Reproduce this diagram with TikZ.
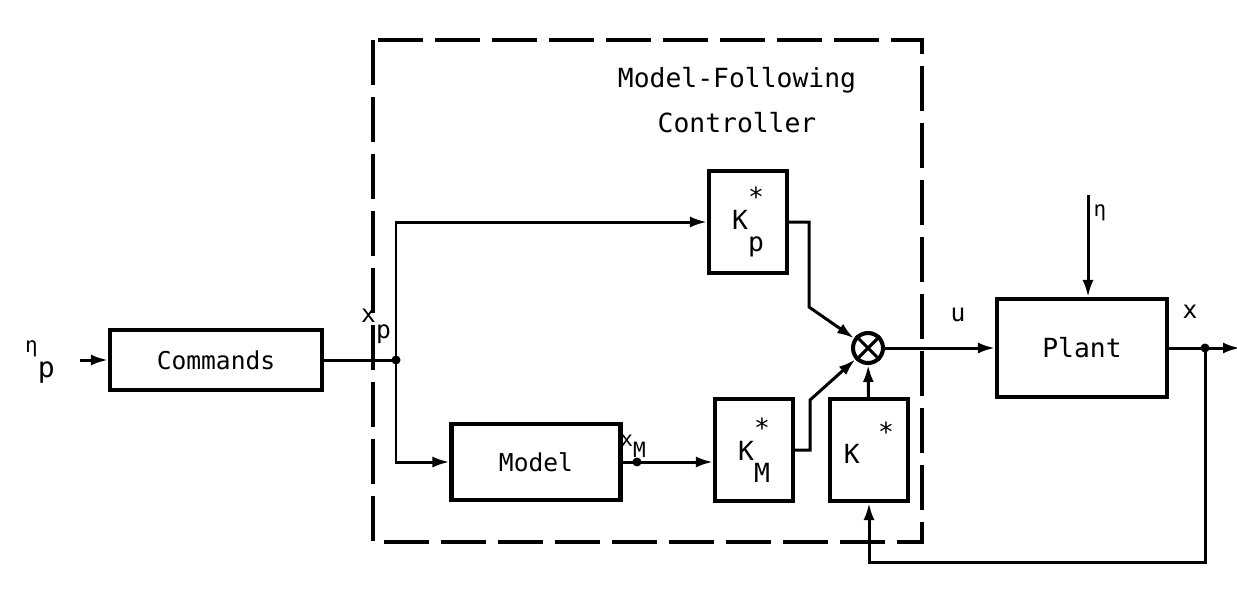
\documentclass[tikz,border=0pt]{standalone}
\usepackage{fontspec}
\setmainfont{DejaVu Sans Mono}
\usetikzlibrary{arrows.meta,calc,positioning}

\begin{document}
\begin{tikzpicture}[x=0.2mm,y=-0.2mm,
      blk/.style={draw,line width=2.3pt,inner sep=0pt,font=\fontsize{14}{16}\selectfont},
      gain/.style={blk,minimum width=1.56cm,minimum height=2.04cm,font=\fontsize{15}{16}\selectfont},
      wire/.style={line width=1.7pt},
      arr/.style={-{Latex[length=3.4mm,width=2.2mm]},line width=1.7pt},
      lbl/.style={inner sep=0pt,font=\fontsize{14}{16}\selectfont}]
      \useasboundingbox (0,0) rectangle (1237,592);
      % controller frame
      \draw[line width=2.6pt,dash pattern=on 9mm off 2.4mm] (373,40) rectangle (922,542);
      \node[lbl,align=center,font=\fontsize{15}{26}\selectfont] (title) at (737,100) {Model-Following\\Controller};
      % blocks
      \node[blk,minimum width=4.24cm,minimum height=1.2cm] (cmd) at (216,360) {Commands};
      \node[blk,minimum width=3.38cm,minimum height=1.52cm] (model) at (536,462) {Model\hspace{1.2em}};
      \node[gain] (kp) at (748,222) {K\rlap{\raisebox{1.6ex}{*}}\raisebox{-1.5ex}{p}};
      \node[gain] (km) at (754,450) {K\rlap{\raisebox{1.6ex}{*}}\raisebox{-1.5ex}{M}};
      \node[gain] (kx) at (869,450) {\raisebox{1ex}{K\hspace{0.7em}\raisebox{1.5ex}{*}}};
      \node[blk,minimum width=3.4cm,minimum height=1.96cm,font=\fontsize{15}{16}\selectfont] (plant) at (1082,348) {Plant};
      \node[draw,circle,line width=2.3pt,minimum size=0.6cm,inner sep=0pt] (sum) at (868,348) {};
      \draw[line width=1.8pt] (sum.45) -- (sum.225) (sum.135) -- (sum.315);
      % points
      \coordinate (etain) at (80,360);
      \coordinate (split) at (396,360);
      \coordinate (xmdot) at (637,462);
      \coordinate (nin) at (1088,195);
      \coordinate (ydot) at (1205,348);
      \coordinate (yout) at (1240,348);
      % labels
      \node[lbl,font=\fontsize{12}{12}\selectfont] (etap) at (40,362) {η\raisebox{-2.2ex}{\fontsize{16}{16}\selectfont p}};
      \node[lbl] (xp) at (376,326) {x\raisebox{-1.2ex}{p}};
      \node[lbl,font=\fontsize{12}{14}\selectfont] (xm) at (633,446) {x\raisebox{-1ex}{M}};
      \node[lbl] (u) at (958,315) {u};
      \node[lbl] (x) at (1190,312) {x};
      \node[lbl,font=\fontsize{12}{12}\selectfont] (eta) at (1100,213) {η};
      % signal paths
      \draw[arr] (etain) -- (cmd);
      \draw[wire] (cmd) -- (split);
      \fill (split) circle (0.9mm);
      \draw[arr] (split) |- (kp.west);
      \draw[arr] (split) |- (model.west);
      \draw[wire] (model.east) -- (xmdot);
      \fill (xmdot) circle (0.9mm);
      \draw[arr] (xmdot) -- (xmdot -| km.west);
      \draw[arr] (kp.east) -- ++(20,0) -- ++(0,85) -- (sum);
      \draw[arr] (km.east) -- ++(15,0) -- ++(0,-50) -- (sum);
      \draw[arr] (kx) -- (sum);
      \draw[arr] (sum) -- (plant);
      \draw[arr] (nin) -- (plant.north -| nin);
      \draw[wire] (plant) -- (ydot);
      \fill (ydot) circle (0.9mm);
      \draw[arr] (ydot) -- (yout);
      \draw[arr] (ydot) -- ++(0,214) -| (kx.south);
\end{tikzpicture}
\end{document}
